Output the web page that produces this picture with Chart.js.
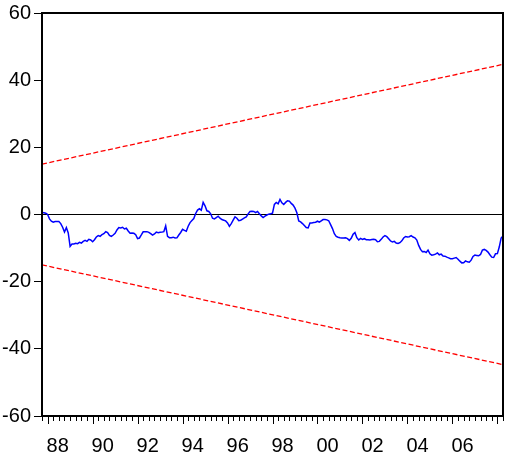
<!DOCTYPE html>
<html>
<head>
<meta charset="utf-8">
<title>CUSUM</title>
<script src="https://cdn.jsdelivr.net/npm/chart.js@4.4.1/dist/chart.umd.min.js"></script>
<style>
  html, body { margin: 0; padding: 0; background: #fff; }
  canvas { display: block; }
</style>
</head>
<body>
<canvas id="cusum-chart" width="507" height="455"></canvas>
<script>
// Ряд помесячный, первое наблюдение 1987M10
const startYear = 1987;
const startMonth = 10;

// CUSUM
const cusum = [
  0.6, 0.5, 0.4, 0.0, -1.3, -2.0, -2.3, -2.1, -2.1, -2.1,
  -2.7, -3.8, -5.2, -3.9, -5.5, -9.5, -8.8, -8.8, -8.6, -8.7,
  -8.3, -8.5, -8.0, -7.7, -8.0, -7.4, -7.6, -8.1, -7.5, -6.7,
  -6.3, -6.5, -6.0, -5.7, -5.1, -5.4, -6.2, -6.5, -6.1, -5.6,
  -4.6, -3.9, -4.0, -3.8, -4.3, -4.1, -4.9, -5.6, -5.5, -5.6,
  -6.0, -7.2, -7.0, -6.1, -5.15, -5.1, -5.1, -5.3, -5.7, -6.15,
  -5.8, -5.25, -5.4, -5.3, -5.25, -5.1, -3.4, -6.5, -6.9, -6.9,
  -6.75, -7.0, -6.95, -6.1, -5.35, -4.4, -4.75, -5.0, -3.5, -2.4,
  -1.8, -1.2, 0.3, 1.3, 1.7, 1.3, 3.6, 2.6, 1.1, 0.9,
  0.2, -1.1, -1.3, -0.9, -0.5, -1.1, -1.5, -1.7, -1.9, -2.5,
  -3.5, -2.7, -1.7, -0.7, -1.1, -1.85, -1.7, -1.35, -1.0, -0.7,
  0.2, 0.9, 0.95, 0.9, 0.55, 0.9, 0.2, -0.4, -0.9, -0.5,
  -0.15, 0.1, 0.2, 0.4, 3.0, 3.6, 3.2, 4.5, 3.5, 3.0,
  3.6, 4.1, 4.0, 3.3, 2.8, 1.9, 0.5, -1.9, -2.2, -2.7,
  -3.3, -3.9, -4.0, -2.5, -2.5, -2.4, -2.3, -2.0, -2.3, -1.9,
  -1.5, -1.5, -1.6, -1.85, -3.0, -4.2, -5.7, -6.5, -6.75, -6.9,
  -7.0, -7.0, -6.9, -7.2, -7.7, -7.1, -5.9, -5.4, -6.9, -7.6,
  -7.1, -7.4, -7.2, -7.5, -7.5, -7.6, -7.45, -7.4, -7.5, -8.1,
  -8.0, -7.4, -6.7, -6.3, -6.6, -7.2, -7.9, -8.2, -8.0, -8.5,
  -8.65, -8.4, -7.85, -7.0, -6.55, -6.7, -6.6, -6.3, -6.7, -6.95,
  -7.6, -9.2, -10.4, -11.1, -11.0, -11.3, -10.6, -11.7, -12.1, -12.0,
  -11.8, -11.45, -12.0, -11.8, -12.35, -12.4, -12.7, -12.9, -13.15, -13.2,
  -13.0, -12.8, -13.3, -13.9, -14.4, -14.35, -13.8, -14.1, -14.2, -13.6,
  -12.5, -12.1, -12.2, -12.3, -11.9, -10.6, -10.4, -10.7, -11.2, -12.0,
  -12.7, -12.8, -11.7, -11.65, -9.7, -7.0, -6.4
];

// 5% границы: значение на первом и последнем наблюдении
const boundStart = 15.0;
const boundEnd = 44.7;

// Подписи осей
const yTicks = [-60, -40, -20, 0, 20, 40, 60];
const labelYears = [1988, 1990, 1992, 1994, 1996, 1998, 2000, 2002, 2004, 2006];
const yearLabels = ['88', '90', '92', '94', '96', '98', '00', '02', '04', '06'];

const labelOffset = 0.45;   // подпись года стоит в середине года
const fontFamily = "'Liberation Sans Narrow', 'Liberation Sans', Arial, sans-serif";

document.addEventListener('DOMContentLoaded', function() {
  initCusumChart();
});

/**
 * Дата наблюдения в долях года
 */
function obsDate(i) {
  return startYear + (startMonth - 1) / 12 + i / 12;
}

/**
 * Рамка вокруг области графика и засечки по оси X
 */
const framePlugin = {
  id: 'frame',
  afterDraw(chart) {
    const ctx = chart.ctx;
    const area = chart.chartArea;
    const x = chart.scales.x;

    ctx.save();
    ctx.strokeStyle = '#000';

    // засечки: крупные на чётных годах, мелкие по кварталам
    ctx.lineWidth = 1;
    ctx.beginPath();
    const first = Math.ceil(x.min * 4) / 4;
    for (let t = first; t <= x.max + 1e-9; t += 0.25) {
      const px = Math.round(x.getPixelForValue(t)) + 0.5;
      const isMajor = Math.abs(t - Math.round(t)) < 1e-6 && Math.round(t) % 2 === 0;
      const len = isMajor ? 8 : 5;
      ctx.moveTo(px, area.bottom);
      ctx.lineTo(px, area.bottom + len);
    }
    ctx.stroke();

    ctx.lineWidth = 2;
    ctx.strokeRect(area.left, area.top, area.right - area.left, area.bottom - area.top);
    ctx.restore();
  }
};

/**
 * Построение графика CUSUM
 */
function initCusumChart() {
  const canvas = document.getElementById('cusum-chart');
  if (!canvas) return;

  const lastDate = obsDate(cusum.length - 1);
  const cusumPoints = cusum.map((v, i) => ({ x: obsDate(i), y: v }));
  const upperPoints = [{ x: obsDate(0), y: boundStart }, { x: lastDate, y: boundEnd }];
  const lowerPoints = [{ x: obsDate(0), y: -boundStart }, { x: lastDate, y: -boundEnd }];

  new Chart(canvas, {
    type: 'line',
    data: {
      datasets: [
        {
          label: 'CUSUM',
          data: cusumPoints,
          borderColor: '#0000FF',
          borderWidth: 1.5,
          pointRadius: 0,
          tension: 0
        },
        {
          label: '5% Significance',
          data: upperPoints,
          borderColor: '#FF0000',
          borderWidth: 1.3,
          borderDash: [5, 2.5],
          pointRadius: 0
        },
        {
          label: '5% Significance (lower)',
          data: lowerPoints,
          borderColor: '#FF0000',
          borderWidth: 1.3,
          borderDash: [5, 2.5],
          pointRadius: 0
        }
      ]
    },
    options: {
      responsive: false,
      animation: false,
      layout: { padding: { top: 12, right: 4, left: 0, bottom: 0 } },
      plugins: {
        legend: { display: false },
        tooltip: { enabled: false }
      },
      scales: {
        x: {
          type: 'linear',
          min: obsDate(0),
          max: lastDate,
          afterBuildTicks: scale => {
            scale.ticks = labelYears.map(y => ({ value: y + labelOffset }));
          },
          afterFit: scale => { scale.height = 39; },
          ticks: {
            autoSkip: false,
            maxRotation: 0,
            padding: 10,
            color: '#000',
            font: { family: fontFamily, size: 20 },
            callback: (value, index) => yearLabels[index]
          },
          grid: { display: false },
          border: { display: false }
        },
        y: {
          min: -60,
          max: 60,
          afterBuildTicks: scale => {
            scale.ticks = yTicks.map(v => ({ value: v }));
          },
          afterFit: scale => { scale.width = 42; },
          ticks: {
            padding: 3,
            color: '#000',
            font: { family: fontFamily, size: 20, lineHeight: 1.0 }
          },
          grid: {
            drawOnChartArea: true,
            tickLength: 8,
            tickColor: '#000',
            lineWidth: 1,
            color: ctx => (ctx.tick && ctx.tick.value === 0 ? '#000' : 'rgba(0,0,0,0)')
          },
          border: { display: false }
        }
      }
    },
    plugins: [framePlugin]
  });
}
</script>
</body>
</html>
